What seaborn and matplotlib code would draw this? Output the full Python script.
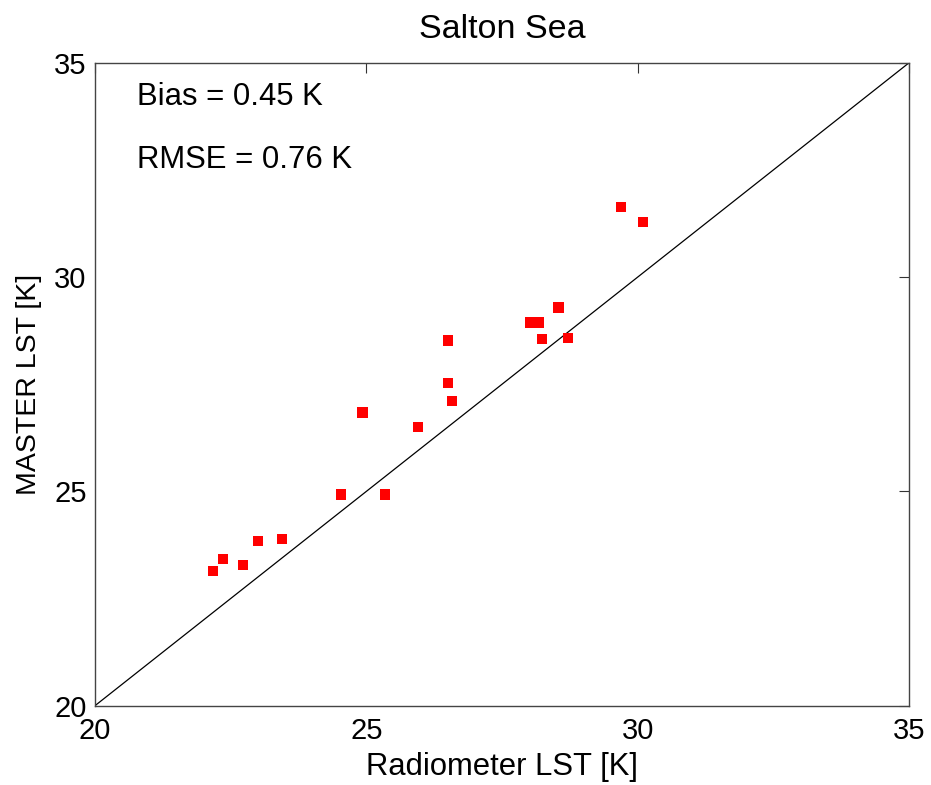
import matplotlib
matplotlib.use("Agg")
import matplotlib.pyplot as plt
import seaborn as sns
import pandas as pd

radiometer = [22.17, 22.36, 22.73, 23.00, 23.45, 24.53, 25.34, 24.93, 25.95, 26.50,
              26.50, 26.58, 28.02, 28.17, 28.24, 28.54, 28.71, 29.69, 30.10]
master = [23.14, 23.42, 23.28, 23.84, 23.89, 24.93, 24.93, 26.84, 26.51, 28.52,
          27.53, 27.11, 28.94, 28.94, 28.55, 29.29, 28.58, 31.63, 31.29]
ticks = [20, 25, 30, 35]
title = "Salton Sea"
xlabel = "Radiometer LST [K]"
ylabel = "MASTER LST [K]"
annotations = ["Bias = 0.45 K", "RMSE = 0.76 K"]

sns.set_style("white")
plt.rcParams['font.family'] = ['Liberation Sans', 'DejaVu Sans']
plt.rcParams['text.color'] = 'black'
plt.rcParams['axes.labelcolor'] = 'black'

df = pd.DataFrame({"radiometer": radiometer, "master": master})

fig = plt.figure(figsize=(9.31, 7.85), dpi=100)
ax = fig.add_axes([0.102, 0.101, 0.8744, 0.819])

ax.plot([20, 35], [20, 35], color="black", linewidth=0.9, zorder=1)
sns.scatterplot(data=df, x="radiometer", y="master", marker="s", color="#ff0000",
                s=55, edgecolor="none", ax=ax, zorder=3)

ax.set_xlim(20, 35)
ax.set_ylim(20, 35)
ax.set_xticks(ticks)
ax.set_yticks(ticks)
ax.tick_params(direction="in", length=7, width=0.8, labelsize=21, colors="#333333",
               top=True, right=True, labelcolor="black")
ax.tick_params(axis="x", pad=8)
ax.tick_params(axis="y", pad=6)
for sp in ax.spines.values():
    sp.set_color("#444444")
    sp.set_linewidth(1.0)
    sp.set_visible(True)

ax.set_title(title, fontsize=24.5, pad=18, color="black")
ax.set_xlabel(xlabel, fontsize=22.3, labelpad=5, color="black")
ax.set_ylabel(ylabel, fontsize=20.5, labelpad=8.5, color="black")

ax.text(20.77, 34.2, annotations[0], fontsize=22.4, va="center", ha="left", color="black")
ax.text(20.77, 32.73, annotations[1], fontsize=22.4, va="center", ha="left", color="black")

fig.savefig("out.png", dpi=100)
